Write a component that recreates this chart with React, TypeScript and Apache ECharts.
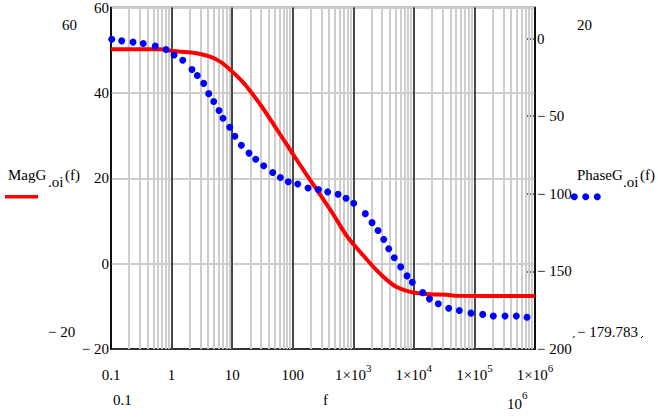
import React, { useEffect, useRef } from "react";
import * as echarts from "echarts";

const FONT = "'Liberation Serif', 'Times New Roman', Times, serif";

// Magnitude curve MagG.oi(f) [dB]
const magFreq = [0.1, 0.644, 1.056, 2.26, 4.31, 6.72, 9.84, 14.4, 19.7, 28.8, 42.2, 61.7, 97.3, 170, 282, 468, 778, 1000, 1463, 2436, 3565, 5210, 7620, 11140, 18500, 34900, 47800, 1e6];
const magDb = [50.2, 50.2, 49.8, 49.4, 48.5, 47.1, 45.1, 42.8, 40.5, 37.4, 33.9, 30.3, 26.0, 20.8, 16.2, 11.5, 6.5, 4.6, 1.9, -1.6, -3.8, -5.5, -6.4, -6.9, -7.2, -7.3, -7.5, -7.6];

// Phase points PhaseG.oi(f) [deg]
const phaseFreq = [0.103, 0.15, 0.231, 0.341, 0.538, 0.809, 1.1, 1.53, 2.17, 2.66, 3.39, 4.1, 4.96, 6.07, 7.06, 9.12, 11.1, 14.2, 19.0, 24.5, 33.2, 46.8, 62.4, 84.6, 121, 179, 265, 378, 560, 759, 1016, 1581, 2040, 2560, 3180, 3845, 4755, 6065, 7710, 9425, 14000, 18100, 25300, 37600, 56300, 87800, 137000, 205000, 320000, 492000, 738000];
const phaseDeg = [-0.4, -1.5, -2.3, -3.2, -4.9, -7.1, -10.6, -14.0, -19.9, -23.8, -28.9, -35.5, -40.6, -46.3, -51.4, -57.2, -62.9, -68.8, -73.8, -77.8, -82.0, -86.3, -89.5, -92.2, -93.7, -96.3, -97.2, -98.8, -100.3, -102.9, -106.1, -112.8, -118.6, -123.7, -129.4, -135.4, -141.2, -147.1, -152.9, -157.0, -163.7, -167.7, -170.9, -173.7, -175.2, -176.9, -177.7, -178.8, -178.8, -178.8, -179.6];

// Axis ranges and decade grid
const xMin = 0.1;
const xMax = 1e6;
const decadeLines = [1, 10, 100, 1e3, 1e4, 1e5];
const minorMultipliers = [2, 3, 4, 5, 6, 7, 8, 9];
const decadeStarts = [0.1, 1, 10, 100, 1e3, 1e4, 1e5];

const fmtNeg = (v: number) => (v < 0 ? "\u2212 " + Math.abs(v) : String(v));

export default function App() {
  const ref = useRef<HTMLDivElement>(null);
  useEffect(() => {
    if (!ref.current) return;
    const chart = echarts.init(ref.current, undefined, { renderer: "svg" });

    const minorLines: any[] = [];
    decadeStarts.forEach((d) => minorMultipliers.forEach((m) => minorLines.push({ xAxis: +(d * m).toPrecision(6) })));
    const majorLines = decadeLines.map((v) => ({ xAxis: v }));

    const txt = (x: number, y: number, text: string, size = 15) => ({
      type: "text",
      x,
      y,
      silent: true,
      style: {
        text,
        fill: "#000",
        fontFamily: FONT,
        fontSize: size,
        verticalAlign: "middle",
        align: "left",
      },
    });

    const option: any = {
      animation: false,
      backgroundColor: "#fff",
      textStyle: { fontFamily: FONT },
      grid: {
        left: 111,
        top: 4,
        width: 424,
        height: 345,
        show: true,
        borderColor: "#000",
        borderWidth: 1.5,
        backgroundColor: "transparent",
      },
      xAxis: {
        type: "log",
        logBase: 10,
        min: xMin,
        max: xMax,
        axisLine: { show: true, onZero: false, lineStyle: { color: "#000", width: 1.5 } },
        axisTick: { show: false },
        splitLine: { show: false },
        axisLabel: {
          interval: 0,
          showMinLabel: true,
          showMaxLabel: true,
          margin: 13,
          color: "#000",
          fontFamily: FONT,
          formatter: (v: number) => {
            const e = Math.round(Math.log10(v));
            if (e < 0) return "{b|0.1}";
            if (e <= 2) return "{b|" + Math.pow(10, e) + "}";
            return "{b|1\u00d710}{s|" + e + "}";
          },
          rich: {
            b: { fontFamily: FONT, fontSize: 15, lineHeight: 20, verticalAlign: "bottom", color: "#000" },
            s: { fontFamily: FONT, fontSize: 11, lineHeight: 11, verticalAlign: "top", color: "#000" },
          },
        },
      },
      yAxis: [
        {
          type: "value",
          min: -20,
          max: 60,
          interval: 20,
          axisLine: { show: true, lineStyle: { color: "#000", width: 1.5 } },
          axisTick: { show: false },
          splitLine: { show: true, lineStyle: { color: "#cdcdcd", width: 2 } },
          axisLabel: {
            margin: 2,
            color: "#000",
            fontFamily: FONT,
            fontSize: 15,
            formatter: fmtNeg,
          },
        },
        {
          type: "value",
          position: "right",
          min: -200,
          max: 20,
          interval: 50,
          axisLine: { show: true, lineStyle: { color: "#000", width: 1.5 } },
          axisTick: { show: true, inside: true, length: 8, lineStyle: { color: "#333", width: 1.5 } },
          splitLine: { show: false },
          axisLabel: {
            margin: 2,
            showMaxLabel: false,
            color: "#000",
            fontFamily: FONT,
            fontSize: 15,
            formatter: (v: number) => (v > 0 ? "" : fmtNeg(v)),
          },
        },
      ],
      series: [
        {
          type: "line",
          data: [],
          z: 1,
          silent: true,
          markLine: {
            silent: true,
            symbol: "none",
            label: { show: false },
            lineStyle: { color: "#cdcdcd", width: 2, type: "solid" },
            data: minorLines,
            z: 1,
          },
        },
        {
          type: "line",
          data: [],
          z: 2,
          silent: true,
          markLine: {
            silent: true,
            symbol: "none",
            label: { show: false },
            lineStyle: { color: "#474747", width: 2, type: "solid" },
            data: majorLines,
            z: 2,
          },
        },
        {
          name: "MagG",
          type: "line",
          yAxisIndex: 0,
          data: magFreq.map((f, i) => [f, magDb[i]]),
          showSymbol: false,
          smooth: 0.3,
          lineStyle: { color: "#ff0000", width: 4 },
          z: 5,
        },
        {
          name: "PhaseG",
          type: "scatter",
          yAxisIndex: 1,
          data: phaseFreq.map((f, i) => [f, phaseDeg[i]]),
          symbol: "circle",
          symbolSize: 7,
          itemStyle: { color: "#0000ff", opacity: 1 },
          z: 6,
        },
      ],
      graphic: [
        txt(62, 25, "60"),
        txt(48, 332, "\u2212 20"),
        txt(113, 400, "0.1"),
        txt(323, 400, "f"),
        txt(507, 404, "10"),
        txt(522, 395, "6", 11),
        txt(577, 25, "20"),
        txt(577, 332, "\u2212 179.783"),
        { type: "line", silent: true, shape: { x1: 573, y1: 338, x2: 574.5, y2: 336 }, style: { stroke: "#000", lineWidth: 1 } },
        { type: "line", silent: true, shape: { x1: 641, y1: 338, x2: 643, y2: 336 }, style: { stroke: "#000", lineWidth: 1 } },
        // left legend
        txt(8, 175, "MagG"),
        txt(48, 182, ".oi"),
        txt(65, 175, "(f)"),
        { type: "line", silent: true, shape: { x1: 5, y1: 196.7, x2: 38, y2: 196.7 }, style: { stroke: "#ff0000", lineWidth: 3.5 } },
        // right legend
        txt(577, 175, "PhaseG"),
        txt(623, 182, ".oi"),
        txt(640, 175, "(f)"),
        { type: "circle", silent: true, shape: { cx: 574.3, cy: 196.7, r: 3.5 }, style: { fill: "#0000ff" } },
        { type: "circle", silent: true, shape: { cx: 585.7, cy: 196.7, r: 3.5 }, style: { fill: "#0000ff" } },
        { type: "circle", silent: true, shape: { cx: 597.3, cy: 196.7, r: 3.5 }, style: { fill: "#0000ff" } },
      ],
    };
    chart.setOption(option);
    return () => chart.dispose();
  }, []);
  return (
    <div
      ref={ref}
      style={{ position: "fixed", left: 0, top: 0, width: 658, height: 419, background: "#fff" }}
    />
  );
}
